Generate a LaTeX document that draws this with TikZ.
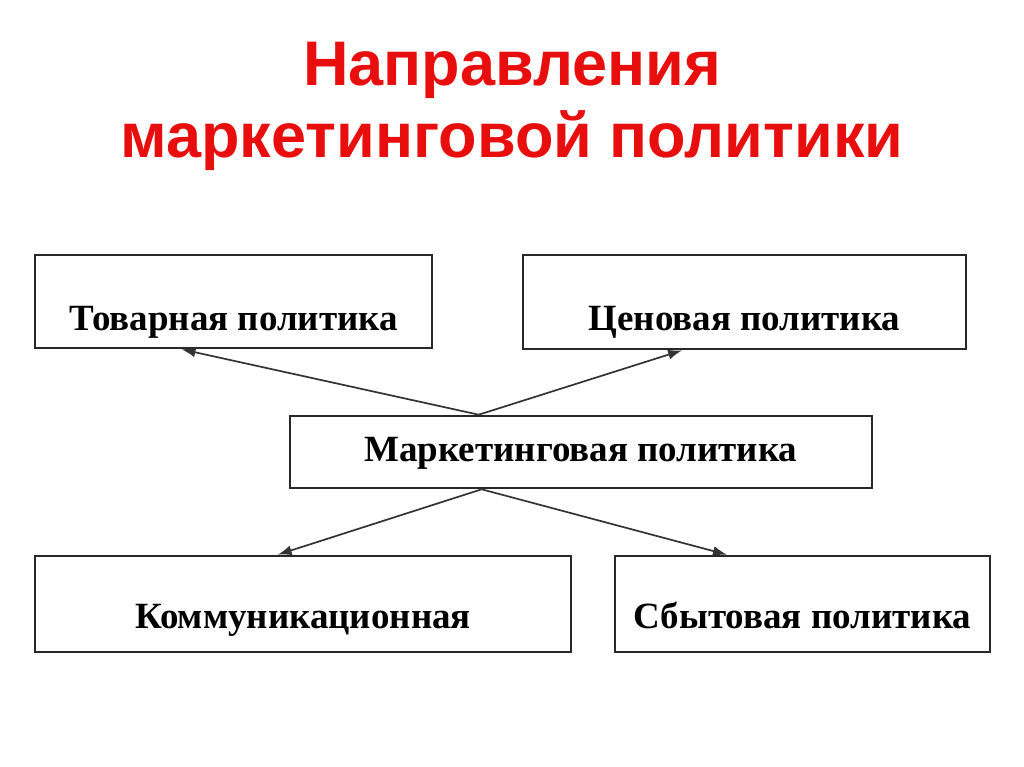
\documentclass[tikz,border=0pt]{standalone}
\usepackage{fontspec}
\setmainfont{Liberation Serif}
\newfontfamily\titlefont{Liberation Sans}
\usetikzlibrary{arrows.meta}
\usetikzlibrary{calc}

\definecolor{titlered}{RGB}{232,14,14}
\definecolor{framegray}{RGB}{40,40,40}

\tikzset{
  heading/.style={text=titlered, font=\titlefont\bfseries\fontsize{63}{72}\selectfont, anchor=base, inner sep=0pt},
  polbox/.style={draw=framegray, line width=2.6pt, inner sep=0pt, font=\bfseries\fontsize{37}{44}\selectfont, text depth=0pt},
  topbox/.style={polbox, text height=57pt},
  lowbox/.style={polbox, text height=49pt},
  midbox/.style={polbox, text height=18pt},
  link/.style={draw=black!80, line width=1.7pt, -{Latex[length=14pt,width=10pt]}}
}

\begin{document}
\begin{tikzpicture}[x=1pt, y=-1pt]
\useasboundingbox[fill=white] (0,0) rectangle (1024,767);

\begin{scope}
\node[heading] (head1) at (512,86) {Направления}; % заголовок
\node[heading] (head2) at (512,158) {маркетинговой политики};
\end{scope}

%% схема
\begin{scope}
\node[topbox, minimum width=397, minimum height=93] (tov) at (233.5,301.5) {Товарная политика};
\node[topbox, minimum width=443, minimum height=94] (cen) at (744.5,302) {Ценовая политика};
\node[midbox, minimum width=582, minimum height=72] (mark) at (581,452) {Маркетинговая политика};
\node[lowbox, minimum width=536, minimum height=96] (komm) at (303,604) {Коммуникационная};
\node[lowbox, minimum width=375, minimum height=96] (sbyt) at (802.5,604) {Сбытовая политика};

\coordinate (up) at ($(mark.north west)!0.325!(mark.north east)$); % общая точка сверху
\coordinate (down) at ($(mark.south west)!0.33!(mark.south east)$); % общая точка снизу

\draw[link] (up) -- ($(tov.south west)!0.37!(tov.south east)$);
\draw[link] (up) -- ($(cen.south west)!0.36!(cen.south east)$);
\draw[link] (down) -- ($(komm.north west)!0.453!(komm.north east)$);
\draw[link] (down) -- ($(sbyt.north west)!0.30!(sbyt.north east)$);
\end{scope}
\end{tikzpicture}
\end{document}
